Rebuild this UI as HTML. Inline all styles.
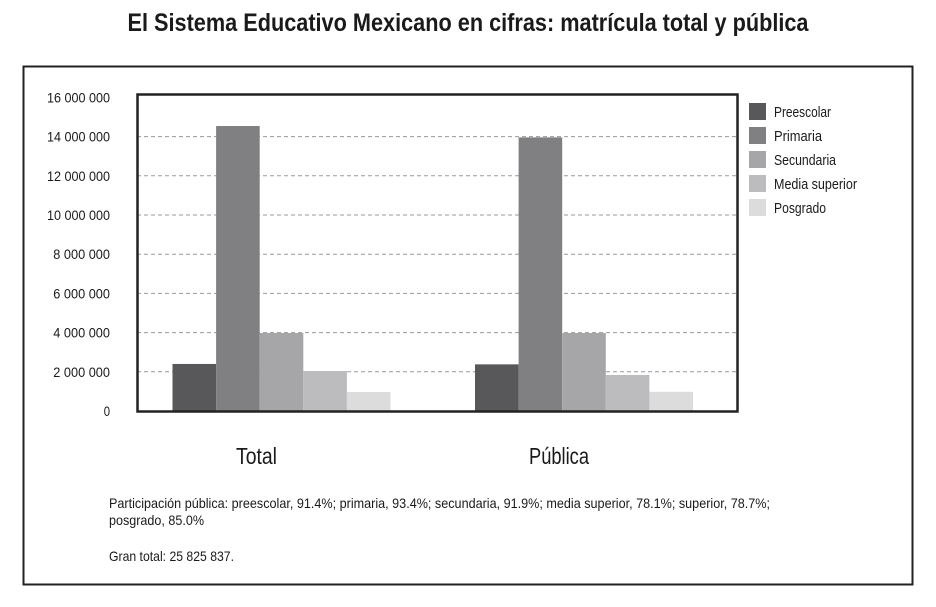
<!DOCTYPE html>
<html><head><meta charset="utf-8"><style>
html,body{margin:0;padding:0;background:#fff;}
svg{display:block;font-family:"Liberation Sans",sans-serif;}
</style></head><body>
<svg id="c" width="936" height="607" viewBox="0 0 936 607">
<text x="468" y="31" text-anchor="middle" font-size="25" font-weight="bold" fill="#1a1a1a" textLength="681" lengthAdjust="spacingAndGlyphs">El Sistema Educativo Mexicano en cifras: matrícula total y pública</text>
<rect x="23.5" y="66.5" width="889" height="518" fill="none" stroke="#222" stroke-width="2"/>
<g id="grid"></g>
<g id="bars"></g>
<rect x="137.5" y="94.5" width="600" height="317" fill="none" stroke="#222" stroke-width="2.5"/>
<g id="ylab"></g>
<g id="xlab"></g>
<g id="legend"></g>
<g font-size="14" fill="#1a1a1a">
<text x="109" y="508" textLength="661" lengthAdjust="spacingAndGlyphs">Participación pública: preescolar, 91.4%; primaria, 93.4%; secundaria, 91.9%; media superior, 78.1%; superior, 78.7%;</text>
<text x="109" y="525" textLength="95" lengthAdjust="spacingAndGlyphs">posgrado, 85.0%</text>
<text x="109" y="561" textLength="125" lengthAdjust="spacingAndGlyphs">Gran total: 25 825 837.</text>
</g>
</svg>
<script>
const categories = ["Total", "Pública"];
const seriesNames = ["Preescolar", "Primaria", "Secundaria", "Media superior", "Posgrado"];
const preescolar = [2400000, 2380000];
const primaria = [14540000, 13960000];
const secundaria = [3980000, 3980000];
const mediaSuperior = [2040000, 1840000];
const posgrado = [970000, 980000];
const yTicks = [0, 2000000, 4000000, 6000000, 8000000, 10000000, 12000000, 14000000, 16000000];
const yTickLabels = ["0", "2 000 000", "4 000 000", "6 000 000", "8 000 000", "10 000 000", "12 000 000", "14 000 000", "16 000 000"];

const series = [preescolar, primaria, secundaria, mediaSuperior, posgrado];
const colors = ["#58585a", "#808082", "#a6a6a8", "#bcbcbe", "#dcdcdc"];
const legendWidths = [57, 48, 62, 83, 52];
const catWidths = [41, 60];
const NS = "http://www.w3.org/2000/svg";
const y = v => 411 - v * 19.6e-6;
const xCenter = i => 281.5 + i * 302.5;
const barW = 43.6;
function mk(tag, attrs, parent) {
  const e = document.createElementNS(NS, tag);
  for (const k in attrs) e.setAttribute(k, attrs[k]);
  parent.appendChild(e);
  return e;
}
const grid = document.getElementById("grid");
const ylab = document.getElementById("ylab");
yTicks.forEach((t, i) => {
  if (t > 0 && t < 16000000) {
    const l = mk("line", {x1: 137, x2: 737, y1: y(t), y2: y(t), stroke: "#999", "stroke-width": 1, "stroke-dasharray": "4 3"}, grid);
    
    
  }
  const tx = mk("text", {x: 110, y: y(t) + 5, "text-anchor": "end", "font-size": 14, fill: "#1a1a1a"}, ylab);
  
  
  tx.setAttribute("textLength", yTickLabels[i].length * 6.3);
  tx.setAttribute("lengthAdjust", "spacingAndGlyphs");
  tx.textContent = yTickLabels[i];
});
const bars = document.getElementById("bars");
categories.forEach((c, ci) => {
  const start = xCenter(ci) - barW * series.length / 2;
  series.forEach((s, si) => {
    const r = mk("rect", {x: start + si * barW, y: y(s[ci]), width: barW, height: 411 - y(s[ci]), fill: colors[si]}, bars);
    
    
  });
  const t = mk("text", {x: xCenter(ci) - 25, y: 464, "text-anchor": "middle", "font-size": 23, fill: "#1a1a1a"}, document.getElementById("xlab"));
  
  
  t.setAttribute("textLength", catWidths[ci]);
  t.setAttribute("lengthAdjust", "spacingAndGlyphs");
  t.textContent = c;
});
const leg = document.getElementById("legend");
seriesNames.forEach((n, i) => {
  const r = mk("rect", {x: 749, y: 103 + i * 24, width: 17, height: 17, fill: colors[i]}, leg);
  
  
  const t = mk("text", {x: 774, y: 117 + i * 24, "font-size": 15, fill: "#1a1a1a"}, leg);
  
  
  t.setAttribute("textLength", legendWidths[i]);
  t.setAttribute("lengthAdjust", "spacingAndGlyphs");
  t.textContent = n;
});
</script>
</body></html>
